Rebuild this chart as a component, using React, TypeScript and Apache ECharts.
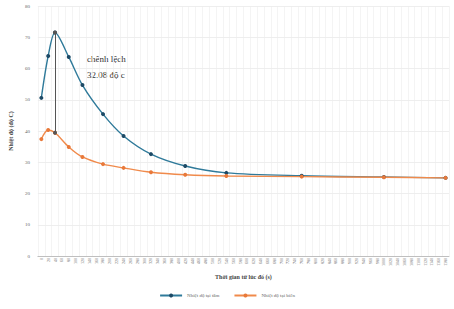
import React, { useEffect, useRef } from "react";
import * as echarts from "echarts";

const timeLabels = [
  "0","20","40","60","80","100","120","140","160","180",
  "200","220","240","260","280","300","320","340","360","380",
  "400","420","440","460","480","500","520","540","560","580",
  "600","620","640","660","680","700","720","740","760","780",
  "800","820","840","860","880","900","920","940","960","980",
  "1000","1020","1040","1060","1080","1100","1120","1140","1160","1180",
];
const sampleTimes = ["0","20","40","80","120","180","240","320","420","540","760","1000","1180"];
const centerTemps = [50.6, 64.0, 71.5, 63.7, 54.7, 45.4, 38.4, 32.6, 28.8, 26.6, 25.7, 25.3, 25.0];
const edgeTemps = [37.4, 40.3, 39.42, 34.9, 31.7, 29.4, 28.2, 26.8, 26.0, 25.6, 25.4, 25.2, 25.0];
const yTicks = { min: 0, max: 80, interval: 10 };
const seriesNames = ["Nhiệt độ tại tâm", "Nhiệt độ tại biên"];
const noteLines = ["chênh lệch", "32.08 độ c"];
const diffTime = "40";

const FONT = "'Liberation Serif', 'DejaVu Serif', serif";

export default function App() {
  const ref = useRef<HTMLDivElement>(null);
  useEffect(() => {
    if (!ref.current) return;
    const chart = echarts.init(ref.current, undefined, { renderer: "svg" });
    const idx = sampleTimes.indexOf(diffTime);
    chart.setOption({
      animation: false,
      textStyle: { fontFamily: FONT },
      grid: { left: 34, right: 5, top: 6, bottom: 53 },
      xAxis: {
        type: "category",
        data: timeLabels,
        boundaryGap: true,
        name: "Thời gian từ lúc đổ (s)",
        nameLocation: "middle",
        nameGap: 16,
        nameTextStyle: { fontSize: 6, fontWeight: "bold", color: "#444", fontFamily: FONT },
        axisLine: { show: true, lineStyle: { color: "#bfbfbf" } },
        axisTick: { show: false },
        axisLabel: { interval: 0, rotate: 90, fontSize: 4, color: "#666", margin: 2, fontFamily: FONT },
        splitLine: { show: true, interval: 0, lineStyle: { color: "#ececec", width: 0.6 } },
      },
      yAxis: {
        type: "value",
        min: yTicks.min,
        max: yTicks.max,
        interval: yTicks.interval,
        name: "Nhiệt độ (độ C)",
        nameLocation: "middle",
        nameGap: 20,
        nameRotate: 90,
        nameTextStyle: { fontSize: 6, fontWeight: "bold", color: "#444", fontFamily: FONT },
        axisLine: { show: false },
        axisTick: { show: false },
        axisLabel: { fontSize: 5, color: "#666", margin: 8, fontFamily: FONT },
        splitLine: { show: true, lineStyle: { color: "#e2e2e2", width: 0.6 } },
      },
      legend: {
        bottom: 6,
        left: "center",
        itemGap: 14,
        itemWidth: 22,
        itemHeight: 5,
        textStyle: { fontSize: 5, color: "#666", fontFamily: FONT },
        data: seriesNames,
      },
      graphic: [
        {
          type: "text",
          left: 87,
          top: 51,
          style: {
            text: noteLines.join("\n"),
            font: `9px ${FONT}`,
            lineHeight: 16,
            fill: "#333",
          },
        },
      ],
      series: [
        {
          name: seriesNames[0],
          type: "line",
          smooth: 0.3,
          data: sampleTimes.map((t, i) => [t, centerTemps[i]]),
          symbol: "circle",
          symbolSize: 4,
          lineStyle: { color: "#2f7a9a", width: 1.4 },
          itemStyle: { color: "#1d4a66" },
          markLine: {
            silent: true,
            symbol: ["circle", "circle"],
            symbolSize: 4,
            label: { show: false },
            lineStyle: { color: "#555", width: 1, type: "solid" },
            itemStyle: { color: "#111" },
            data: [
              [
                { coord: [diffTime, centerTemps[idx]] },
                { coord: [diffTime, edgeTemps[idx]] },
              ],
            ],
          },
        },
        {
          name: seriesNames[1],
          type: "line",
          smooth: 0.3,
          data: sampleTimes.map((t, i) => [t, edgeTemps[i]]),
          symbol: "circle",
          symbolSize: 4,
          lineStyle: { color: "#f08a4b", width: 1.4 },
          itemStyle: { color: "#e8793a" },
        },
      ],
    });
    return () => chart.dispose();
  }, []);
  return (
    <div
      ref={ref}
      style={{ position: "fixed", left: 0, top: 0, width: 454, height: 309, background: "#fff" }}
    />
  );
}
